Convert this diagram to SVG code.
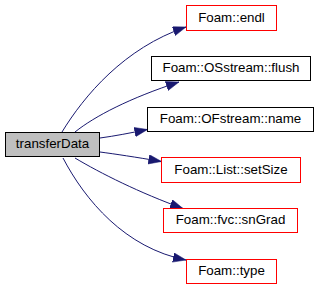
<svg xmlns="http://www.w3.org/2000/svg" width="320" height="291" viewBox="0 0 320 291">
  <style>
    .node rect { stroke-width: 1; }
    .ref rect { fill: #ffffff; stroke: #ff0000; }
    .doc rect { fill: #ffffff; stroke: #000000; }
    .cur rect { fill: #bfbfbf; stroke: #000000; }
    .node text { font-family: "Liberation Sans", Arial, sans-serif; font-size: 13.33px; fill: #000000; text-anchor: middle; }
    .edge { fill: none; stroke: #191970; stroke-width: 1; marker-end: url(#arrow); }
  </style>
  <defs>
    <marker id="arrow" markerUnits="userSpaceOnUse" markerWidth="14" markerHeight="10" refX="13" refY="4.7" orient="auto">
      <path d="M0,0 L13,4.7 L0,9.4 Z" fill="#191970" stroke="#191970" stroke-width="0.5"/>
    </marker>
  </defs>

  <!-- call edges from transferData -->
  <g id="edges">
    <path class="edge" d="M62,132 C84,96 124,48 186,27"/>
    <path class="edge" d="M75,132 C95,116 130,98 179,82"/>
    <path class="edge" d="M100,138 C115,136 130,133 147.5,129.5"/>
    <path class="edge" d="M100,152 C115,154 135,157 161.5,161.5"/>
    <path class="edge" d="M75,158 C100,173 140,193 183,208.5"/>
    <path class="edge" d="M63,158 C85,200 125,248 186,260"/>
  </g>

  <g id="transferData" class="node cur">
    <rect x="5.5" y="132.5" width="94" height="24"/>
    <text x="52.5" y="148.3">transferData</text>
  </g>
  <g id="endl" class="node ref">
    <rect x="186.5" y="5.5" width="90" height="25"/>
    <text x="231.5" y="21.7">Foam::endl</text>
  </g>
  <g id="flush" class="node doc">
    <rect x="151.5" y="56.5" width="159" height="24"/>
    <text x="231" y="72.3">Foam::OSstream::flush</text>
  </g>
  <g id="name" class="node doc">
    <rect x="147.5" y="107.5" width="166" height="24"/>
    <text x="230.5" y="123.3">Foam::OFstream::name</text>
  </g>
  <g id="setSize" class="node ref">
    <rect x="161.5" y="157.5" width="139" height="25"/>
    <text x="231" y="173.7">Foam::List::setSize</text>
  </g>
  <g id="snGrad" class="node ref">
    <rect x="163.5" y="208.5" width="134" height="24"/>
    <text x="230.5" y="224.3">Foam::fvc::snGrad</text>
  </g>
  <g id="type" class="node ref">
    <rect x="186.5" y="259.5" width="90" height="24"/>
    <text x="231.5" y="275.3">Foam::type</text>
  </g>
</svg>
